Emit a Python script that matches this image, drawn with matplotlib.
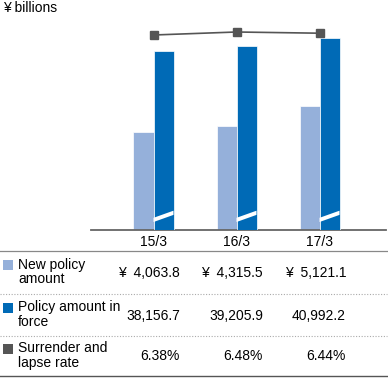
import matplotlib
matplotlib.use("Agg")
import matplotlib.pyplot as plt
import matplotlib.transforms as mtransforms
from matplotlib.lines import Line2D
from matplotlib.patches import Rectangle, Polygon

plt.rcParams['font.family'] = ['Liberation Sans', 'DejaVu Sans']

years = ["15/3", "16/3", "17/3"]
new_policy = [4063.8, 4315.5, 5121.1]
in_force = [38156.7, 39205.9, 40992.2]
lapse_rate = [6.38, 6.48, 6.44]

new_labels = ["¥  4,063.8", "¥  4,315.5", "¥  5,121.1"]
force_labels = ["38,156.7", "39,205.9", "40,992.2"]
rate_labels = ["6.38%", "6.48%", "6.44%"]

light = "#95b0da"
dark = "#006ab6"
grey = "#555555"

W, H = 388, 378
fig = plt.figure(figsize=(W / 100, H / 100), dpi=100)

def fy(px):
    return 1 - px / H

# chart area: baseline at y=230px, top at 20px
ax = fig.add_axes([91 / W, fy(230), (386 - 91) / W, 210 / H])
ax2 = ax.twinx()
ax3 = ax.twinx()

x = list(range(len(years)))
bw = 0.241

ax.bar(x, new_policy, width=-bw, align="edge", color=light, edgecolor="white", linewidth=0.5)
ax.set_ylim(0, 8700)

# broken axis for policy amount in force
dark_lo = -883
ax2.bar(x, [v - dark_lo for v in in_force], width=bw, align="edge", bottom=dark_lo,
        color=dark, edgecolor="white", linewidth=0.5)
ax2.set_ylim(dark_lo, 44919)

ax3.plot(x, lapse_rate, color=grey, lw=1.2, marker="s", markersize=5.5, zorder=5)
ax3.set_ylim(-0.12, 6.88)

for a in (ax, ax2, ax3):
    a.set_xlim(-0.753, 2.801)
    a.set_yticks([])
    a.set_xticks([])
    for s in a.spines.values():
        s.set_visible(False)
    a.patch.set_visible(False)
ax.spines["bottom"].set_visible(True)
ax.spines["bottom"].set_color("#666666")
ax.spines["bottom"].set_linewidth(1.3)

# white break marks on the dark bars
for xi in x:
    poly = Polygon([(xi, 0.038), (xi + bw, 0.072), (xi + bw, 0.092), (xi, 0.058)],
                   closed=True, facecolor="white", edgecolor="none",
                   transform=mtransforms.blended_transform_factory(ax.transData, ax.transAxes),
                   zorder=10)
    ax2.add_patch(poly)

fs = 10
fig.text(3 / W, fy(8), "¥ billions", fontsize=fs, va="center", ha="left")

# table below chart
tr = mtransforms.blended_transform_factory(ax.transData, fig.transFigure)
for xi, yr in zip(x, years):
    fig.text(xi, fy(242), yr, transform=tr, ha="center", va="center", fontsize=fs)

rows = [
    ("New policy\namount", light, new_labels, 272, 265),
    ("Policy amount in\nforce", dark, force_labels, 314.5, 308),
    ("Surrender and\nlapse rate", grey, rate_labels, 355.5, 349),
]
for label, col, vals, yc, ysq in rows:
    fig.add_artist(Rectangle((3 / W, fy(ysq + 5)), 10 / W, 10 / H, transform=fig.transFigure,
                             facecolor=col, edgecolor="none"))
    fig.text(18 / W, fy(yc), label, ha="left", va="center", fontsize=fs, linespacing=1.08)
    for xi, v in zip(x, vals):
        fig.text(xi + 0.32, fy(yc + 1), v, transform=tr, ha="right", va="center", fontsize=fs)

fig.add_artist(Line2D([0, 387 / W], [fy(251), fy(251)], color="#888888", lw=0.9,
                      transform=fig.transFigure))
for yl in (294, 336):
    fig.add_artist(Line2D([0, 387 / W], [fy(yl), fy(yl)], color="#aaaaaa", lw=0.8,
                          linestyle=(0, (1, 1.5)), transform=fig.transFigure))
fig.add_artist(Line2D([0, 387 / W], [fy(376), fy(376)], color="#555555", lw=1.0,
                      transform=fig.transFigure))

fig.savefig("out.png", dpi=100)
